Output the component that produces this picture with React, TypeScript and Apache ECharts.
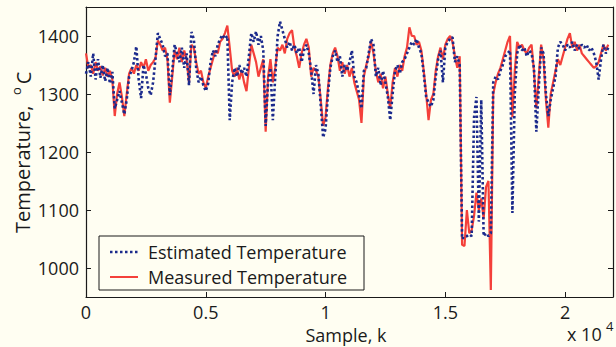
import React, { useEffect, useRef } from 'react';
import * as echarts from 'echarts';

// sample spacing of the digitised readings (samples)
const SAMPLE_STEP = 100;

// Measured temperature (red solid), read every 100 samples
const measured = [
  1370, 1345, 1350, 1335, 1355, 1340, 1348, 1332, 1345, 1330,
  1340, 1325, 1262, 1300, 1320, 1295, 1262, 1300, 1335, 1345,
  1335, 1350, 1340, 1355, 1345, 1360, 1340, 1350, 1355, 1362,
  1392, 1385, 1375, 1380, 1360, 1285, 1330, 1375, 1360, 1380,
  1355, 1375, 1360, 1320, 1385, 1380, 1355, 1335, 1340, 1320,
  1310, 1330, 1345, 1360, 1375, 1370, 1390, 1395, 1405, 1418,
  1380, 1340, 1330, 1345, 1325, 1340, 1320, 1305, 1345, 1385,
  1370, 1355, 1330, 1345, 1360, 1235, 1330, 1360, 1320, 1345,
  1380, 1375, 1385, 1370, 1395, 1405, 1410, 1380, 1365, 1345,
  1370, 1385, 1395, 1380, 1330, 1345, 1340, 1330, 1290, 1245,
  1260, 1310, 1350, 1370, 1380, 1365, 1340, 1355, 1335, 1350,
  1330, 1345, 1320, 1305, 1290, 1250, 1330, 1350, 1365, 1390,
  1370, 1340, 1320, 1335, 1310, 1330, 1300, 1275, 1320, 1345,
  1330, 1350, 1340, 1365, 1380, 1415, 1400, 1400, 1385, 1390,
  1375, 1340, 1300, 1255, 1290, 1300, 1340, 1365, 1380, 1360,
  1385, 1395, 1400, 1390, 1365, 1345, 1365, 1040, 1038, 1100,
  1060, 1065, 1090, 1130, 1100, 1120, 1085, 1140, 1150, 962,
  1300, 1320, 1335, 1345, 1360, 1375, 1390, 1400, 1260, 1340,
  1390, 1380, 1385, 1375, 1370, 1380, 1385, 1340, 1275, 1330,
  1385, 1360, 1290, 1242, 1300, 1320, 1340, 1360, 1350, 1365,
  1380, 1395, 1405, 1380, 1390, 1375, 1385, 1370, 1365, 1360,
  1355, 1350, 1345, 1348, 1355, 1370, 1385, 1375, 1385,
];

// Estimated temperature (blue dotted), read every 100 samples
const estimated = [
  1335, 1355, 1330, 1370, 1325, 1360, 1328, 1350, 1322, 1345,
  1318, 1338, 1275, 1290, 1305, 1285, 1265, 1290, 1330, 1340,
  1355, 1382, 1325, 1293, 1350, 1335, 1310, 1298, 1320, 1360,
  1405, 1395, 1385, 1365, 1370, 1298, 1340, 1385, 1370, 1355,
  1380, 1345, 1370, 1315, 1407, 1395, 1345, 1320, 1330, 1315,
  1305, 1318, 1355, 1375, 1365, 1385, 1395, 1402, 1395, 1400,
  1255, 1320, 1345, 1330, 1350, 1335, 1345, 1330, 1365, 1405,
  1390, 1408, 1385, 1400, 1375, 1245, 1320, 1345, 1255, 1330,
  1400, 1425, 1410, 1395, 1380, 1390, 1375, 1385, 1370, 1380,
  1355, 1375, 1385, 1370, 1340, 1300, 1350, 1335, 1280, 1225,
  1240, 1300, 1345, 1365, 1375, 1355, 1365, 1330, 1350, 1340,
  1355, 1375, 1330, 1320, 1300, 1275, 1340, 1345, 1370, 1395,
  1385, 1330, 1345, 1315, 1340, 1320, 1295, 1255, 1300, 1340,
  1350, 1335, 1355, 1360, 1370, 1380, 1390, 1385, 1395, 1380,
  1370, 1335, 1295, 1285, 1278, 1290, 1330, 1360, 1375, 1320,
  1380, 1390, 1395, 1398, 1355, 1365, 1350, 1050, 1055, 1055,
  1058, 1055, 1260, 1295, 1080, 1290, 1055, 1060, 1055, 1060,
  1320, 1330, 1325, 1340, 1350, 1365, 1370, 1375, 1095, 1300,
  1370, 1385, 1375, 1380, 1365, 1375, 1370, 1345, 1235, 1310,
  1380, 1370, 1300, 1262, 1290, 1310, 1330, 1380, 1390, 1385,
  1375, 1385, 1380, 1390, 1375, 1385, 1378, 1385, 1380, 1385,
  1375, 1380, 1370, 1355, 1325, 1360, 1385, 1370, 1380,
];

const xTicks = [0, 5000, 10000, 15000, 20000];
const yTicks = [1000, 1100, 1200, 1300, 1400];

const BG = '#FFFEF2';
const INK = '#1a1a1a';
const BLUE = '#1B2A8C';
const RED = '#F4403A';
const FONT = '"Open Sans", sans-serif';

export default function App() {
  const ref = useRef<HTMLDivElement>(null);

  useEffect(() => {
    if (!ref.current) return;
    const chart = echarts.init(ref.current, null, { renderer: 'svg' });
    const toPairs = (arr: number[]) => arr.map((v, i) => [i * SAMPLE_STEP, v]);

    const axisLine = { show: true, onZero: false, lineStyle: { color: INK, width: 1.2 } };
    const axisTick = { show: true, inside: true, length: 5, lineStyle: { color: INK, width: 1 } };

    chart.setOption({
      animation: false,
      backgroundColor: BG,
      grid: { left: 86, right: 1, top: 7, bottom: 50 },
      xAxis: [
        {
          type: 'value', min: 0, max: 22000, interval: 5000, position: 'bottom',
          axisLine, axisTick,
          axisLabel: {
            margin: 6, fontFamily: FONT, fontSize: 18, lineHeight: 18, color: INK,
            formatter: (v: number) => (xTicks.includes(v) ? String(v / 10000) : ''),
          },
          splitLine: { show: false },
        },
        {
          type: 'value', min: 0, max: 22000, interval: 5000, position: 'top',
          axisLine, axisTick, axisLabel: { show: false }, splitLine: { show: false },
        },
      ],
      yAxis: [
        {
          type: 'value', min: 950, max: 1450, splitNumber: 5, position: 'left',
          axisLine, axisTick,
          axisLabel: {
            margin: 7, fontFamily: FONT, fontSize: 18, lineHeight: 18, color: INK,
            formatter: (v: number) => (yTicks.includes(v) ? String(v) : ''),
          },
          splitLine: { show: false },
        },
        {
          type: 'value', min: 950, max: 1450, splitNumber: 5, position: 'right',
          axisLine, axisTick, axisLabel: { show: false }, splitLine: { show: false },
        },
      ],
      series: [
        {
          name: 'Measured Temperature', type: 'line', xAxisIndex: 0, yAxisIndex: 0,
          data: toPairs(measured), symbol: 'none', z: 2,
          lineStyle: { color: RED, width: 2.2 },
        },
        {
          name: 'Estimated Temperature', type: 'line', xAxisIndex: 0, yAxisIndex: 0,
          data: toPairs(estimated), symbol: 'none', z: 3,
          lineStyle: { color: BLUE, width: 2.6, type: [2.5, 2.5] },
        },
      ],
      graphic: [
        {
          type: 'rect', shape: { x: 99, y: 236, width: 265, height: 54 },
          style: { fill: BG, stroke: INK, lineWidth: 1 }, z: 10,
        },
        {
          type: 'line', shape: { x1: 110, y1: 252, x2: 138, y2: 252 },
          style: { stroke: BLUE, lineWidth: 2.5, lineDash: [2.5, 2.5] }, z: 11,
        },
        {
          type: 'line', shape: { x1: 110, y1: 277, x2: 138, y2: 277 },
          style: { stroke: RED, lineWidth: 2 }, z: 11,
        },
        {
          type: 'text', x: 148, y: 252, z: 11,
          style: { text: 'Estimated Temperature', fontFamily: FONT, fontSize: 18, lineHeight: 20, fill: INK, align: 'left', verticalAlign: 'middle' },
        },
        {
          type: 'text', x: 148, y: 277, z: 11,
          style: { text: 'Measured Temperature', fontFamily: FONT, fontSize: 18, lineHeight: 20, fill: INK, align: 'left', verticalAlign: 'middle' },
        },
        {
          type: 'text', x: 346, y: 335, z: 11,
          style: { text: 'Sample, k', fontFamily: FONT, fontSize: 18, lineHeight: 18, fill: INK, align: 'center', verticalAlign: 'middle' },
        },
        {
          type: 'text', x: 567, y: 334, z: 11,
          style: { text: 'x 10', fontFamily: FONT, fontSize: 18, lineHeight: 18, fill: INK, align: 'left', verticalAlign: 'middle' },
        },
        {
          type: 'text', x: 606, y: 326, z: 11,
          style: { text: '4', fontFamily: FONT, fontSize: 13, lineHeight: 13, fill: INK, align: 'left', verticalAlign: 'middle' },
        },
        {
          type: 'text', x: 22, y: 233, rotation: Math.PI / 2, z: 11,
          style: { text: 'Temperature,', fontFamily: FONT, fontSize: 20, lineHeight: 20, fill: INK, align: 'left', verticalAlign: 'middle' },
        },
        {
          type: 'text', x: 16, y: 91, rotation: Math.PI / 2, z: 11,
          style: { text: 'o', fontFamily: FONT, fontSize: 13, lineHeight: 13, fill: INK, align: 'center', verticalAlign: 'middle' },
        },
        {
          type: 'text', x: 23, y: 78, rotation: Math.PI / 2, z: 11,
          style: { text: 'C', fontFamily: FONT, fontSize: 20, lineHeight: 20, fill: INK, align: 'center', verticalAlign: 'middle' },
        },
      ],
    });

    return () => chart.dispose();
  }, []);

  return (
    <div
      ref={ref}
      style={{ position: 'fixed', left: 0, top: 0, width: 616, height: 347 }}
    />
  );
}
